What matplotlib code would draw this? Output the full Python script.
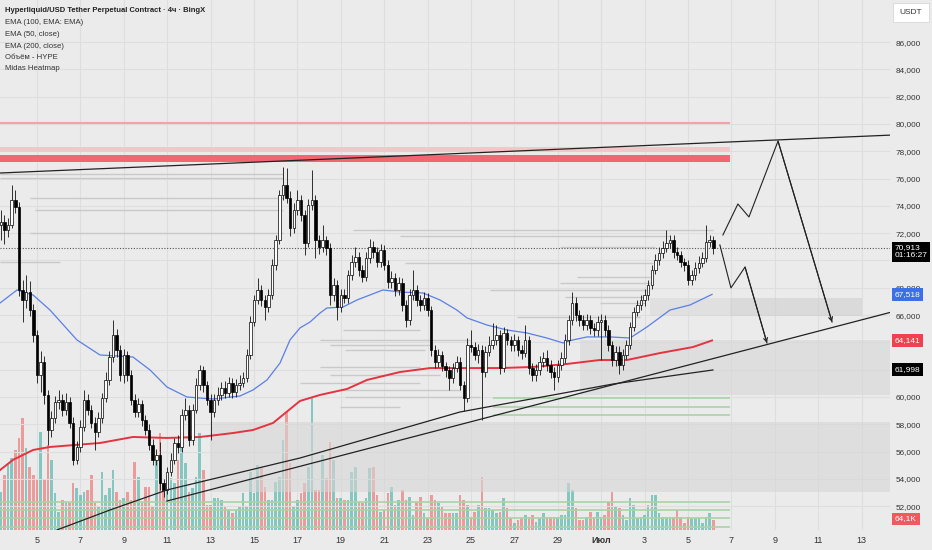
import numpy as np
import matplotlib.pyplot as plt
from matplotlib.patches import Rectangle
from matplotlib.transforms import blended_transform_factory

plt.rcParams['font.family'] = ['Liberation Sans', 'DejaVu Sans']

# x axis: days counted from June 5, 00:00 ; one candle = 4h
start_day = -5 / 3
first_open = 72600

closes = [
    72820, 72230, 72600, 74430, 73920, 67840, 67110, 67700, 66370, 64540,
    61610, 62560, 60150, 57580, 58460, 59630, 59780, 59050, 59630, 58100,
    55390, 56340, 57800, 59780, 59050, 58100, 57440, 58460, 59930, 61250,
    62930, 64540, 63440, 61610, 63080, 61610, 59780, 58910, 59490, 58320,
    57580, 56480, 55390, 55750, 53700, 53190, 54500, 55390, 56630, 56340,
    58680, 59050, 56850, 59050, 60880, 61980, 60880, 59780, 58900, 59780,
    60150, 60660, 60300, 61030, 60370, 60880, 61030, 61400, 63080, 65500,
    67110, 67840, 67110, 66590, 67470, 69670, 71500, 74800, 75530, 74580,
    72380, 73700, 74430, 73330, 71280, 74070, 74430, 71500, 70990, 71500,
    70920, 67470, 68200, 66590, 67470, 67260, 68940, 69890, 70260, 69300,
    68790, 70180, 70990, 70620, 69890, 70770, 69670, 68420, 68720, 67840,
    68350, 66740, 65640, 67470, 67840, 67110, 66740, 67260, 66370, 63440,
    62560, 63080, 62270, 61980, 61400, 62130, 62560, 60880, 59930, 63810,
    63660, 63080, 63440, 61830, 63300, 63810, 64180, 64540, 62130, 64690,
    64180, 63810, 64180, 63440, 63220, 64180, 62130, 61610, 61980, 62560,
    62850, 62340, 61830, 61470, 62340, 62850, 64180, 65640, 66880, 66000,
    65640, 65280, 65640, 65060, 64910, 65500, 65640, 64910, 63810, 62710,
    63300, 62340, 63080, 63810, 65130, 66220, 66740, 67110, 67470, 68200,
    69300, 70040, 70550, 70920, 71280, 71500, 70620, 70400, 69890, 69670,
    68570, 68940, 69450, 69820, 70180, 71350, 71500, 70913]

highs = [
    73700, 73300, 73100, 75530, 75200, 74300, 68600, 68940, 68500, 66800,
    64900, 63400, 63000, 60500, 59000, 60100, 60500, 60200, 60300, 60000,
    58500, 56800, 58300, 60510, 60200, 59400, 58500, 58900, 60300, 61800,
    63400, 65640, 65000, 63800, 63500, 63400, 62000, 60200, 59900, 59800,
    58700, 58000, 56900, 56200, 56700, 54000, 54900, 55900, 57000, 57200,
    59100, 59900, 59400, 59500, 61400, 62340, 62300, 61200, 60200, 60200,
    60700, 61100, 61200, 61500, 61400, 61300, 61600, 61800, 63500, 65900,
    67500, 68720, 68200, 67500, 67900, 70100, 71900, 75200, 76850, 76780,
    75100, 74200, 75165, 74800, 73700, 74500, 76630, 74800, 71900, 72600,
    71800, 71300, 68700, 68600, 67900, 67900, 69300, 70400, 71000, 70600,
    69700, 70600, 71600, 71400, 71000, 71200, 71100, 70000, 69200, 69100,
    68800, 68700, 67100, 67900, 69300, 68200, 67500, 67700, 67600, 66700,
    63800, 63500, 63400, 62600, 62300, 62500, 63000, 62900, 61200, 64300,
    64900, 64000, 63900, 63800, 63700, 64500, 65400, 65300, 64900, 65100,
    65000, 64500, 64600, 64500, 63800, 65280, 64500, 62500, 62400, 63000,
    63300, 63440, 62700, 62200, 62700, 63300, 64600, 66000, 67700, 67300,
    66400, 66000, 66100, 66000, 65400, 65900, 66100, 66000, 65300, 64100,
    63700, 63700, 63500, 64200, 65500, 66600, 67100, 67500, 67900, 68600,
    69700, 70500, 71000, 71400, 72230, 71900, 71900, 71000, 70700, 70200,
    70000, 69300, 69900, 70300, 70600, 72600, 71900, 71800]

lows = [
    71500, 71200, 71700, 72400, 73500, 67400, 65500, 66500, 65900, 64000,
    61000, 60400, 59500, 56480, 57100, 58100, 59100, 58600, 58700, 57700,
    55000, 55100, 56000, 57500, 58700, 57700, 56120, 57100, 58100, 59600,
    60900, 62600, 62900, 61200, 61000, 61200, 59400, 58500, 58500, 57900,
    57200, 56100, 55000, 55000, 53200, 52670, 52900, 54200, 55100, 55900,
    56000, 58300, 56400, 56500, 58800, 60500, 60400, 59400, 56850, 58500,
    59400, 59800, 59900, 60000, 59900, 60000, 60500, 60700, 61100, 62800,
    65200, 66800, 66700, 65640, 66200, 67200, 69300, 71200, 74400, 74200,
    71800, 72000, 73300, 72900, 70400, 71000, 73700, 70200, 70500, 70600,
    70400, 66740, 67000, 65640, 66200, 66900, 66900, 68600, 69500, 68900,
    68400, 68500, 69800, 70200, 69500, 69500, 69300, 68000, 68000, 67400,
    67500, 66300, 65130, 65300, 67100, 66700, 66300, 66400, 65900, 63000,
    62100, 62200, 61900, 61500, 60510, 61000, 61800, 60500, 59000, 59600,
    63300, 62700, 62500, 58320, 61500, 63000, 63500, 63800, 61700, 61800,
    63800, 63400, 63400, 63000, 62800, 62900, 61700, 61200, 61200, 61600,
    62200, 61900, 61400, 60510, 61100, 62000, 62500, 63800, 65300, 65600,
    65200, 64900, 64900, 64600, 64500, 64500, 62710, 64500, 63400, 62300,
    62300, 61700, 62000, 62800, 63500, 64800, 65900, 66400, 66700, 67100,
    67900, 69000, 69700, 70200, 70600, 70900, 70200, 70000, 69500, 69200,
    68200, 68200, 68600, 69100, 69500, 69900, 71000, 70500]

volumes_k = [
    244, 353, 429, 462, 513, 590, 718, 526, 404, 353,
    321, 628, 321, 545, 449, 237, 115, 192, 179, 173,
    301, 269, 224, 244, 256, 353, 173, 147, 372, 224,
    269, 385, 244, 192, 205, 244, 192, 436, 340, 173,
    276, 276, 147, 449, 622, 301, 321, 333, 301, 449,
    558, 429, 244, 269, 340, 622, 385, 160, 160, 205,
    205, 192, 154, 128, 109, 128, 147, 237, 147, 372,
    237, 417, 397, 276, 192, 192, 308, 340, 577, 756,
    429, 147, 192, 237, 301, 404, 846, 256, 256, 481,
    333, 564, 449, 205, 205, 192, 192, 372, 404, 179,
    173, 205, 397, 404, 224, 115, 128, 237, 276, 160,
    192, 256, 192, 212, 96, 179, 212, 109, 77, 224,
    192, 173, 147, 109, 109, 109, 109, 224, 192, 160,
    83, 115, 160, 340, 141, 141, 128, 109, 115, 205,
    141, 77, 45, 64, 77, 96, 83, 96, 51, 77,
    109, 83, 83, 83, 83, 96, 96, 301, 256, 141,
    64, 64, 83, 115, 83, 115, 83, 96, 179, 244,
    147, 141, 96, 64, 205, 160, 77, 83, 96, 160,
    224, 224, 109, 83, 83, 83, 83, 128, 83, 45,
    83, 77, 77, 77, 45, 83, 109, 64.1]

ema50_t = [-1.70, -0.92, -0.18, 0.60, 1.84, 2.90, 4.42, 5.21, 5.99, 6.91,
           8.11, 9.35, 9.95, 10.60, 11.20, 11.66, 12.12, 12.58, 13.04, 13.36,
           14.10, 14.75, 15.94, 16.73, 17.79, 18.57, 19.35, 19.82, 20.74, 21.66,
           22.58, 23.50, 24.24, 24.70, 25.35, 26.41, 27.33, 28.11, 29.17, 30.09, 31.11]
ema50_p = [66890, 67840, 67470, 66370, 64180, 63080, 62930, 61980, 60730, 60000,
           59850, 60070, 60510, 61250, 62490, 64180, 65060, 65490, 66150, 66520,
           66590, 67110, 67840, 67690, 67620, 67110, 66370, 65790, 65270, 64910,
           64690, 64320, 63960, 64180, 64400, 64400, 64320, 65130, 66370, 66740, 67518]

ema200_t = [-1.70, -1.11, -0.18, 0.60, 2.90, 4.42, 5.99, 7.51, 9.03, 9.95,
            10.88, 12.12, 13.04, 14.29, 15.21, 16.73, 18.11, 19.82, 21.34, 22.86,
            24.42, 25.94, 27.19, 28.71, 30.23, 31.11]
ema200_p = [54650, 55390, 56120, 56340, 56630, 57070, 57000, 57070, 57360, 57580,
            58100, 59710, 60150, 60590, 61250, 61830, 62120, 62120, 62120, 62200,
            62420, 62710, 62710, 63220, 63660, 64141]

# heatmap levels: price, start day, end day
heat_gray_p = [76340, 76040, 74580, 73700, 72010, 69890, 72230, 71800, 70990, 69820,
               68790, 68350, 67840, 67330, 66890, 65860, 64910, 64180, 63810, 63440,
               62200, 61610, 61030, 60000, 59270, 60510]
heat_gray_t0 = [-1.70, -1.70, -0.32, -0.09, -0.32, -1.70, 14.56, 16.73, 24.10, 16.96,
                24.88, 24.10, 20.88, 24.33, 25.94, 22.12, 14.10, 13.04, 13.50, 14.19,
                13.04, 13.50, 12.12, 14.19, 13.96, 14.10]
heat_gray_t1 = [11.34, 11.34, 11.34, 11.34, 11.34, 1.06, 31.15, 29.17, 28.48, 28.39,
                28.25, 28.25, 28.11, 28.02, 28.02, 27.79, 17.65, 19.96, 18.11, 17.88,
                17.65, 18.57, 17.65, 20.41, 16.73, 19.49]
heat_red_p = [80070, 78170]
heat_band_lo, heat_band_hi = 77220, 77730
heat_pink_lo, heat_pink_hi = 77950, 78300
heat_green_p = [59930, 59270, 58680, 52300, 51720, 51130, 50470]
heat_green_t0 = [21.01, 21.01, 21.01, -1.70, -1.70, -1.70, -1.70]
heat_end = 31.94

# zones: t0, t1, low, high
zone_t0 = [28.25, 31.94, 25.02, 7.97]
zone_t1 = [31.94, 38.02, 39.35, 39.35]
zone_lo = [65930, 65930, 60150, 53040]
zone_hi = [67250, 67250, 64180, 58170]

# drawn lines
top_line_t = [-1.70, 39.40]
top_line_p = [76410, 79190]
line_a_t = [5.99, 39.40]
line_a_p = [52380, 66230]
line_c_t = [0.92, 3.36, 5.99, 12.12, 19.49, 26.54, 31.15]
line_c_p = [50260, 51720, 53190, 55530, 58900, 60950, 61980]
path_up_t = [31.61, 32.30, 32.81, 34.15, 36.64]
path_up_p = [71870, 74140, 73190, 78750, 65490]
path_dn_t = [31.47, 31.98, 32.63, 33.64]
path_dn_p = [71140, 67990, 69520, 63960]

tick_days = list(range(0, 39, 2))
tick_labels = ['5', '7', '9', '11', '13', '15', '17', '19', '21', '23', '25', '27', '29',
               'Июл', '3', '5', '7', '9', '11', '13']
price_ticks = list(range(52000, 86001, 2000))
hidden_ticks = [62000, 64000, 70000]   # covered by the value boxes

last_price = 70913
ema50_last = 67518
ema200_last = 64141
line_c_last = 61998

BG = '#ebebeb'
W, H = 932, 550
rect = [0, 20 / H, 890 / W, 530 / H]
xlim = (-1.705, 39.31)
ylim = (50256, 89084)

fig = plt.figure(figsize=(W / 100, H / 100), dpi=100, facecolor=BG)
ax_vol = fig.add_axes(rect, facecolor=BG)
ax = fig.add_axes(rect, sharex=ax_vol)
ax.patch.set_visible(False)

n = len(closes)
t = start_day + np.arange(n) / 6
c = np.array(closes, dtype=float)
o = np.array([first_open] + closes[:-1], dtype=float)
up = c >= o

# volume overlay
ax_vol.bar(t, volumes_k, width=0.12, color=np.where(up, '#26a69a', '#ef5350'),
           alpha=0.52, linewidth=0)
ax_vol.set_ylim(0, 530 * 6.41)
ax_vol.set_xticks(tick_days)
ax_vol.grid(axis='x', color='#dedede', lw=0.8)
ax_vol.set_axisbelow(True)
ax_vol.tick_params(left=False, labelleft=False, bottom=False, labelbottom=False)
for s in ax_vol.spines.values():
    s.set_visible(False)

# price grid
for p in price_ticks:
    ax.axhline(p, color='#dedede', lw=0.8, zorder=0)

# zones
zone_colors = ['#d9d9d9', '#cfcfcf', '#d6d6d6', '#d6d6d6']
for i in range(len(zone_t0)):
    ax.add_patch(Rectangle((zone_t0[i], zone_lo[i]), zone_t1[i] - zone_t0[i],
                           zone_hi[i] - zone_lo[i], facecolor=zone_colors[i],
                           alpha=0.6, lw=0, zorder=1))

# heatmap
ax.hlines(heat_gray_p, heat_gray_t0, heat_gray_t1, color='#c9c9c9', lw=1.0, zorder=2)
ax.hlines(heat_green_p, heat_green_t0, heat_end, color='#a9d4a6', lw=1.2, zorder=2)
ax.hlines(heat_red_p, -1.70, heat_end, color='#f2a3aa', lw=1.5, zorder=2)
ax.add_patch(Rectangle((-1.70, heat_pink_lo), heat_end + 1.70, heat_pink_hi - heat_pink_lo,
                       facecolor='#f4c6c9', lw=0, zorder=2))
ax.add_patch(Rectangle((-1.70, heat_band_lo), heat_end + 1.70, heat_band_hi - heat_band_lo,
                       facecolor='#f26673', lw=0, zorder=2))

# moving averages
ax.plot(ema50_t, ema50_p, color='#5a7fe6', lw=0.9, zorder=4)
ax.plot(ema200_t, ema200_p, color='#e53340', lw=1.4, zorder=4)

# candles
ax.vlines(t, lows, highs, color='#111111', lw=0.6, zorder=5)
body_lo = np.minimum(o, c)
body_h = np.maximum(np.abs(c - o), 40)
ax.bar(t, body_h, bottom=body_lo, width=0.115, color=np.where(up, 'white', 'black'),
       edgecolor='black', linewidth=0.5, zorder=6)

# last price
ax.axhline(last_price, color='#555555', lw=0.8, ls=(0, (1, 1.5)), zorder=3)

# trend lines and projection
ax.plot(top_line_t, top_line_p, color='#222222', lw=0.9, zorder=7)
ax.plot(line_a_t, line_a_p, color='#222222', lw=0.9, zorder=7)
ax.plot(line_c_t, line_c_p, color='#222222', lw=0.9, zorder=7)
for pt, pp in ((path_up_t, path_up_p), (path_dn_t, path_dn_p)):
    ax.plot(pt, pp, color='#222222', lw=0.8, zorder=7)
    ax.annotate('', xy=(pt[-1], pp[-1]), xytext=(pt[-2], pp[-2]), zorder=7,
                arrowprops=dict(arrowstyle='->', lw=0.8, color='#222222',
                                mutation_scale=7, shrinkA=0, shrinkB=0))

ax.set_xlim(*xlim)
ax.set_ylim(*ylim)
ax.yaxis.tick_right()
ax.set_yticks(price_ticks)
ax.set_yticklabels(['' if v in hidden_ticks else f'{v:,}' for v in price_ticks])
ax.set_xticks(tick_days)
ax.set_xticklabels(tick_labels)
for lab in ax.get_xticklabels():
    if lab.get_text() == 'Июл':
        lab.set_fontweight('bold')
ax.tick_params(axis='y', length=0, pad=4, labelsize=5.9, labelcolor='#333333')
ax.tick_params(axis='x', length=0, pad=4, labelsize=6.5, labelcolor='#333333')
for s in ax.spines.values():
    s.set_visible(False)

# price labels on the scale
tr = blended_transform_factory(ax.transAxes, ax.transData)
boxes = [(f'{last_price:,}\n01:16:27', last_price - 280, 'black'),
         (f'{ema50_last:,}', ema50_last, '#3d6fe8'),
         (f'{ema200_last:,}', ema200_last, '#ef4150'),
         (f'{line_c_last:,}', line_c_last, 'black')]
for txt, y, col in boxes:
    ax.text(1.005, y, txt, transform=tr, ha='left', va='center', fontsize=6.0,
            color='white', linespacing=1.15, clip_on=False, zorder=10,
            bbox=dict(boxstyle='square,pad=0.35', fc=col, ec='none'))
fig.text(895 / W, 1 - 519 / H, '64,1K', ha='left', va='center', fontsize=6.0,
         color='white', bbox=dict(boxstyle='square,pad=0.35', fc='#ef5a5f', ec='none'))
fig.text(911 / W, 1 - 12.5 / H, 'USDT', ha='center', va='center', fontsize=6,
         color='#333333', bbox=dict(boxstyle='square,pad=0.75', fc='white', ec='#d6d6d6', lw=0.6))

# legend block
legend_lines = ['EMA (100, EMA: EMA)', 'EMA (50, close)', 'EMA (200, close)',
                'Объём - HYPE', 'Midas Heatmap']
fig.text(5 / W, 1 - 11 / H, 'Hyperliquid/USD Tether Perpetual Contract · 4ч · BingX',
         ha='left', va='center', fontsize=5.5, fontweight='bold', color='#222222')
for k, s in enumerate(legend_lines):
    fig.text(5 / W, 1 - (23 + 11.5 * k) / H, s, ha='left', va='center',
             fontsize=5.6, color='#333333')

fig.savefig('out.png', dpi=100, facecolor=BG)
